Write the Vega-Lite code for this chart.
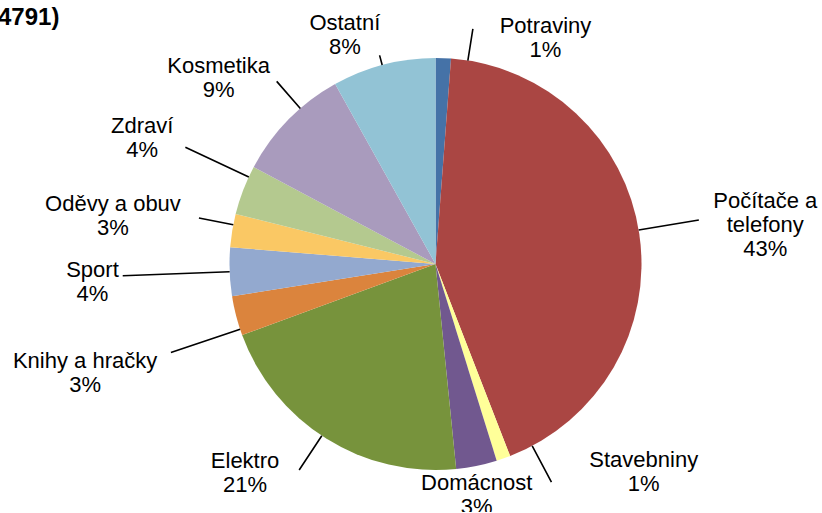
{
  "$schema": "https://vega.github.io/schema/vega-lite/v6.json",
  "autosize": "none",
  "width": 771,
  "height": 496,
  "padding": {"left": 50, "top": 16, "right": 0, "bottom": 0},
  "background": "white",
  "config": {"view": {"stroke": null}},
  "title": {"text": "4791)", "orient": "none", "anchor": "start", "frame": "group", "font": "Liberation Sans", "fontSize": 24, "fontWeight": "bold", "color": "black", "dx": -52, "dy": 9, "baseline": "alphabetic"},
  "data": {"values": [
    {"kategorie": "Potraviny", "podil": 1.2, "poradi": 1, "popis": "Potraviny\n1%"},
    {"kategorie": "Počítače a telefony", "podil": 42.9, "poradi": 2, "popis": "Počítače a\ntelefony\n43%"},
    {"kategorie": "Stavebniny", "podil": 1.1, "poradi": 3, "popis": "Stavebniny\n1%"},
    {"kategorie": "Domácnost", "podil": 3.2, "poradi": 4, "popis": "Domácnost\n3%"},
    {"kategorie": "Elektro", "podil": 21.0, "poradi": 5, "popis": "Elektro\n21%"},
    {"kategorie": "Knihy a hračky", "podil": 3.1, "poradi": 6, "popis": "Knihy a hračky\n3%"},
    {"kategorie": "Sport", "podil": 3.8, "poradi": 7, "popis": "Sport\n4%"},
    {"kategorie": "Oděvy a obuv", "podil": 2.6, "poradi": 8, "popis": "Oděvy a obuv\n3%"},
    {"kategorie": "Zdraví", "podil": 3.9, "poradi": 9, "popis": "Zdraví\n4%"},
    {"kategorie": "Kosmetika", "podil": 9.1, "poradi": 10, "popis": "Kosmetika\n9%"},
    {"kategorie": "Ostatní", "podil": 8.1, "poradi": 11, "popis": "Ostatní\n8%"}
  ]},
  "encoding": {
    "theta": {"field": "podil", "type": "quantitative", "stack": true},
    "order": {"field": "poradi", "type": "quantitative"}
  },
  "layer": [
    {
      "mark": {"type": "arc", "outerRadius": 206},
      "encoding": {
        "color": {"field": "kategorie", "type": "nominal", "legend": null,
          "scale": {
            "domain": ["Potraviny", "Počítače a telefony", "Stavebniny", "Domácnost", "Elektro", "Knihy a hračky", "Sport", "Oděvy a obuv", "Zdraví", "Kosmetika", "Ostatní"],
            "range": ["#4572A7", "#AA4643", "#FFFF99", "#71588F", "#77933C", "#DB843D", "#93A9CF", "#FAC864", "#B4C98F", "#A99BBD", "#92C3D5"]
          }}
      }
    },
    {"mark": {"type": "arc", "innerRadius": 206, "outerRadius": 238, "padAngle": 3, "thetaOffset": 0.12, "theta2Offset": 0.12, "stroke": "black", "strokeWidth": 1.6, "fillOpacity": 0},
     "encoding": {"strokeOpacity": {"condition": {"test": "datum.kategorie === 'Potraviny'", "value": 1}, "value": 0}}},
    {"mark": {"type": "arc", "innerRadius": 206, "outerRadius": 267, "padAngle": 3, "thetaOffset": -0.018, "theta2Offset": -0.018, "stroke": "black", "strokeWidth": 1.6, "fillOpacity": 0},
     "encoding": {"strokeOpacity": {"condition": {"test": "datum.kategorie === 'Počítače a telefony'", "value": 1}, "value": 0}}},
    {"mark": {"type": "arc", "innerRadius": 206, "outerRadius": 247, "padAngle": 3, "thetaOffset": -0.1525, "theta2Offset": -0.1525, "stroke": "black", "strokeWidth": 1.6, "fillOpacity": 0},
     "encoding": {"strokeOpacity": {"condition": {"test": "datum.kategorie === 'Stavebniny'", "value": 1}, "value": 0}}},
    {"mark": {"type": "arc", "innerRadius": 206, "outerRadius": 247, "padAngle": 3, "thetaOffset": 0.0255, "theta2Offset": 0.0255, "stroke": "black", "strokeWidth": 1.6, "fillOpacity": 0},
     "encoding": {"strokeOpacity": {"condition": {"test": "datum.kategorie === 'Elektro'", "value": 1}, "value": 0}}},
    {"mark": {"type": "arc", "innerRadius": 206, "outerRadius": 279, "padAngle": 3, "thetaOffset": -0.0684, "theta2Offset": -0.0684, "stroke": "black", "strokeWidth": 1.6, "fillOpacity": 0},
     "encoding": {"strokeOpacity": {"condition": {"test": "datum.kategorie === 'Knihy a hračky'", "value": 1}, "value": 0}}},
    {"mark": {"type": "arc", "innerRadius": 206, "outerRadius": 313, "padAngle": 3, "thetaOffset": 0, "theta2Offset": 0, "stroke": "black", "strokeWidth": 1.6, "fillOpacity": 0},
     "encoding": {"strokeOpacity": {"condition": {"test": "datum.kategorie === 'Sport'", "value": 1}, "value": 0}}},
    {"mark": {"type": "arc", "innerRadius": 206, "outerRadius": 241, "padAngle": 3, "thetaOffset": 0.0286, "theta2Offset": 0.0286, "stroke": "black", "strokeWidth": 1.6, "fillOpacity": 0},
     "encoding": {"strokeOpacity": {"condition": {"test": "datum.kategorie === 'Oděvy a obuv'", "value": 1}, "value": 0}}},
    {"mark": {"type": "arc", "innerRadius": 206, "outerRadius": 276, "padAngle": 3, "thetaOffset": 0.0688, "theta2Offset": 0.0688, "stroke": "black", "strokeWidth": 1.6, "fillOpacity": 0},
     "encoding": {"strokeOpacity": {"condition": {"test": "datum.kategorie === 'Zdraví'", "value": 1}, "value": 0}}},
    {"mark": {"type": "arc", "innerRadius": 206, "outerRadius": 242, "padAngle": 3, "thetaOffset": 0.0792, "theta2Offset": 0.0792, "stroke": "black", "strokeWidth": 1.6, "fillOpacity": 0},
     "encoding": {"strokeOpacity": {"condition": {"test": "datum.kategorie === 'Kosmetika'", "value": 1}, "value": 0}}},
    {"mark": {"type": "arc", "innerRadius": 206, "outerRadius": 216, "padAngle": 3, "thetaOffset": -0.0073, "theta2Offset": -0.0073, "stroke": "black", "strokeWidth": 1.6, "fillOpacity": 0},
     "encoding": {"strokeOpacity": {"condition": {"test": "datum.kategorie === 'Ostatní'", "value": 1}, "value": 0}}},
    {"mark": {"type": "text", "radius": 251, "thetaOffset": 0.416, "dy": -12, "font": "Liberation Sans", "fontSize": 22, "lineHeight": 24, "lineBreak": "\n", "align": "center", "baseline": "middle", "color": "black"},
     "encoding": {"text": {"condition": {"test": "datum.kategorie === 'Potraviny'", "field": "popis", "type": "nominal"}, "value": ""}}},
    {"mark": {"type": "text", "radius": 332, "thetaOffset": 0.031, "dy": -24, "font": "Liberation Sans", "fontSize": 22, "lineHeight": 24, "lineBreak": "\n", "align": "center", "baseline": "middle", "color": "black"},
     "encoding": {"text": {"condition": {"test": "datum.kategorie === 'Počítače a telefony'", "field": "popis", "type": "nominal"}, "value": ""}}},
    {"mark": {"type": "text", "radius": 294, "thetaOffset": -0.451, "dy": -12, "font": "Liberation Sans", "fontSize": 22, "lineHeight": 24, "lineBreak": "\n", "align": "center", "baseline": "middle", "color": "black"},
     "encoding": {"text": {"condition": {"test": "datum.kategorie === 'Stavebniny'", "field": "popis", "type": "nominal"}, "value": ""}}},
    {"mark": {"type": "text", "radius": 235, "thetaOffset": 0.025, "dy": -12, "font": "Liberation Sans", "fontSize": 22, "lineHeight": 24, "lineBreak": "\n", "align": "center", "baseline": "middle", "color": "black"},
     "encoding": {"text": {"condition": {"test": "datum.kategorie === 'Domácnost'", "field": "popis", "type": "nominal"}, "value": ""}}},
    {"mark": {"type": "text", "radius": 283, "thetaOffset": 0.179, "dy": -12, "font": "Liberation Sans", "fontSize": 22, "lineHeight": 24, "lineBreak": "\n", "align": "center", "baseline": "middle", "color": "black"},
     "encoding": {"text": {"condition": {"test": "datum.kategorie === 'Elektro'", "field": "popis", "type": "nominal"}, "value": ""}}},
    {"mark": {"type": "text", "radius": 367, "thetaOffset": -0.047, "dy": -12, "font": "Liberation Sans", "fontSize": 22, "lineHeight": 24, "lineBreak": "\n", "align": "center", "baseline": "middle", "color": "black"},
     "encoding": {"text": {"condition": {"test": "datum.kategorie === 'Knihy a hračky'", "field": "popis", "type": "nominal"}, "value": ""}}},
    {"mark": {"type": "text", "radius": 343.5, "thetaOffset": -0.016, "dy": -12, "font": "Liberation Sans", "fontSize": 22, "lineHeight": 24, "lineBreak": "\n", "align": "center", "baseline": "middle", "color": "black"},
     "encoding": {"text": {"condition": {"test": "datum.kategorie === 'Sport'", "field": "popis", "type": "nominal"}, "value": ""}}},
    {"mark": {"type": "text", "radius": 326, "thetaOffset": -0.017, "dy": -12, "font": "Liberation Sans", "fontSize": 22, "lineHeight": 24, "lineBreak": "\n", "align": "center", "baseline": "middle", "color": "black"},
     "encoding": {"text": {"condition": {"test": "datum.kategorie === 'Oděvy a obuv'", "field": "popis", "type": "nominal"}, "value": ""}}},
    {"mark": {"type": "text", "radius": 319, "thetaOffset": 0.037, "dy": -12, "font": "Liberation Sans", "fontSize": 22, "lineHeight": 24, "lineBreak": "\n", "align": "center", "baseline": "middle", "color": "black"},
     "encoding": {"text": {"condition": {"test": "datum.kategorie === 'Zdraví'", "field": "popis", "type": "nominal"}, "value": ""}}},
    {"mark": {"type": "text", "radius": 286, "thetaOffset": -0.066, "dy": -12, "font": "Liberation Sans", "fontSize": 22, "lineHeight": 24, "lineBreak": "\n", "align": "center", "baseline": "middle", "color": "black"},
     "encoding": {"text": {"condition": {"test": "datum.kategorie === 'Kosmetika'", "field": "popis", "type": "nominal"}, "value": ""}}},
    {"mark": {"type": "text", "radius": 246, "thetaOffset": -0.123, "dy": -12, "font": "Liberation Sans", "fontSize": 22, "lineHeight": 24, "lineBreak": "\n", "align": "center", "baseline": "middle", "color": "black"},
     "encoding": {"text": {"condition": {"test": "datum.kategorie === 'Ostatní'", "field": "popis", "type": "nominal"}, "value": ""}}}
  ]
}
